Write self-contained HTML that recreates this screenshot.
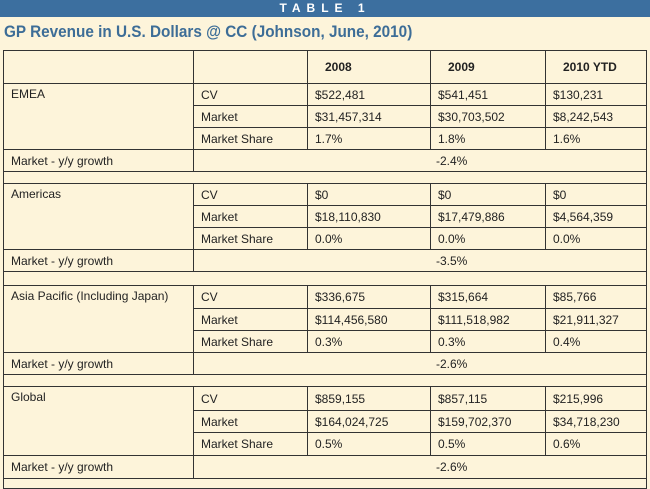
<!DOCTYPE html>
<html><head><meta charset="utf-8"><style>
body{margin:0;width:650px;height:482px;overflow:hidden;background:#fdf4da;font-family:"Liberation Sans Narrow","Liberation Sans",sans-serif;color:#222}
#band{position:absolute;left:0;top:0;width:650px;height:17px;background:#3c6f9f;color:#fff;font:bold 12px "Liberation Sans",sans-serif;letter-spacing:6px;text-align:center;line-height:17px}
#title{position:absolute;left:4px;top:22px;font:bold 17px "Liberation Sans",sans-serif;color:#3d6d97;transform:scaleX(0.9);transform-origin:0 0;white-space:nowrap}
table{position:absolute;left:3px;top:50px;border-collapse:collapse;width:643px;table-layout:fixed;font-size:12px}
td{border:1px solid #333;padding:0 0 0 7px;vertical-align:middle;white-space:nowrap;overflow:hidden}
tr.h td{font-weight:bold;padding-left:17px}
td.g{padding-left:242px}
td.reg{vertical-align:top;padding-top:3px}
</style></head><body>
<div id="band">TABLE 1</div>
<div id="title">GP Revenue in U.S. Dollars @ CC (Johnson, June, 2010)</div>
<table>
<colgroup><col style="width:190px"><col style="width:114px"><col style="width:123px"><col style="width:115px"><col style="width:101px"></colgroup>
<tr class="h" style="height:33px"><td></td><td></td><td>2008</td><td>2009</td><td>2010 YTD</td></tr>

<tr style="height:22px"><td class="reg" rowspan="3">EMEA</td><td>CV</td><td>$522,481</td><td>$541,451</td><td>$130,231</td></tr>
<tr style="height:22px"><td>Market</td><td>$31,457,314</td><td>$30,703,502</td><td>$8,242,543</td></tr>
<tr style="height:22px"><td>Market Share</td><td>1.7%</td><td>1.8%</td><td>1.6%</td></tr>
<tr style="height:22px"><td>Market - y/y growth</td><td class="g" colspan="4">-2.4%</td></tr>
<tr style="height:12px"><td colspan="5"></td></tr>

<tr style="height:22px"><td class="reg" rowspan="3">Americas</td><td>CV</td><td>$0</td><td>$0</td><td>$0</td></tr>
<tr style="height:22px"><td>Market</td><td>$18,110,830</td><td>$17,479,886</td><td>$4,564,359</td></tr>
<tr style="height:22px"><td>Market Share</td><td>0.0%</td><td>0.0%</td><td>0.0%</td></tr>
<tr style="height:22px"><td>Market - y/y growth</td><td class="g" colspan="4">-3.5%</td></tr>
<tr style="height:14px"><td colspan="5"></td></tr>

<tr style="height:23px"><td class="reg" rowspan="3">Asia Pacific (Including Japan)</td><td>CV</td><td>$336,675</td><td>$315,664</td><td>$85,766</td></tr>
<tr style="height:22px"><td>Market</td><td>$114,456,580</td><td>$111,518,982</td><td>$21,911,327</td></tr>
<tr style="height:22px"><td>Market Share</td><td>0.3%</td><td>0.3%</td><td>0.4%</td></tr>
<tr style="height:22px"><td>Market - y/y growth</td><td class="g" colspan="4">-2.6%</td></tr>
<tr style="height:12px"><td colspan="5"></td></tr>

<tr style="height:24px"><td class="reg" rowspan="3">Global</td><td>CV</td><td>$859,155</td><td>$857,115</td><td>$215,996</td></tr>
<tr style="height:22px"><td>Market</td><td>$164,024,725</td><td>$159,702,370</td><td>$34,718,230</td></tr>
<tr style="height:23px"><td>Market Share</td><td>0.5%</td><td>0.5%</td><td>0.6%</td></tr>
<tr style="height:23px"><td>Market - y/y growth</td><td class="g" colspan="4">-2.6%</td></tr>
<tr style="height:10px"><td colspan="5"></td></tr>
</table>
</body></html>
